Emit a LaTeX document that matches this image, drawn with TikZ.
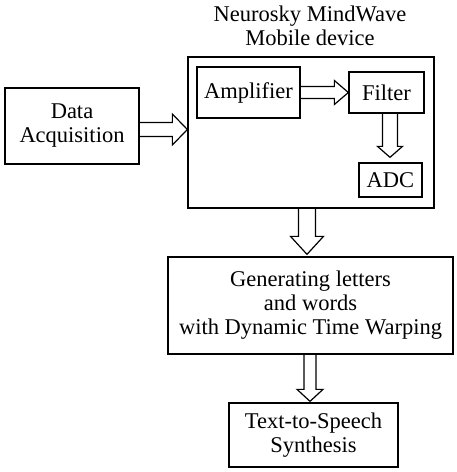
\documentclass[tikz,border=0pt]{standalone}
\usepackage{fontspec}
\setmainfont{Liberation Serif}
\newfontfamily\tnr{Liberation Serif}
\usetikzlibrary{calc}
\tikzset{
  box/.style={draw=black, line width=1.3pt, fill=white, inner sep=0pt, align=center},
  blk/.style={draw=black, line width=1.2pt, line join=miter},
}
% horizontal hollow block arrow: from, to, shaft half, head half, head length
\newcommand\harrow[5]{%
  \draw[blk] let \p1=(#1), \p2=(#2) in
    (\x1,\y1-#3) -- (\x2-#5,\y1-#3) -- (\x2-#5,\y1-#4) -- (\x2,\y1)
    -- (\x2-#5,\y1+#4) -- (\x2-#5,\y1+#3) -- (\x1,\y1+#3);}
% vertical (downward) hollow block arrow
\newcommand\varrow[5]{%
  \draw[blk] let \p1=(#1), \p2=(#2) in
    (\x1-#3,\y1) -- (\x1-#3,\y2+#5) -- (\x1-#4,\y2+#5) -- (\x1,\y2)
    -- (\x1+#4,\y2+#5) -- (\x1+#3,\y2+#5) -- (\x1+#3,\y1);}
\begin{document}
\begin{tikzpicture}[x=1pt,y=-1pt,font=\tnr\fontsize{22.5}{24}\selectfont]
\useasboundingbox (0,0) rectangle (456,472);
\fill[white] (0,0) rectangle (456,472);

\node[align=center] (title) at (310,26) {Neurosky MindWave\\Mobile device};
\node[box, minimum width=246pt, minimum height=151pt] (dev) at (311,132.5) {};
\node[box, minimum width=134pt, minimum height=76pt] (da) at (72,126) {Data\\Acquisition};
\node[box, minimum width=103pt, minimum height=51pt] (amp) at (248.5,92.5) {Amplifier};
\node[box, minimum width=75pt, minimum height=41pt] (fil) at (386.5,92.5) {Filter};
\node[box, minimum width=63pt, minimum height=34pt] (adc) at (390.5,180) {ADC};
\node[box, minimum width=285pt, minimum height=97pt] (gen) at (310.5,305.5)
  {Generating letters\\and words\\with Dynamic Time Warping};
\node[box, minimum width=169pt, minimum height=64pt] (tts) at (313.5,435)
  {Text-to-Speech\\Synthesis};

% connectors
\coordinate (a1s) at ($(da.east)+(0,3.5)$);
\coordinate (a1e) at (dev.west |- a1s);
\harrow{a1s}{a1e}{7pt}{15.5pt}{15pt}

\harrow{amp.east}{fil.west}{6pt}{12pt}{14pt}

\coordinate (a3s) at (390,0 |- fil.south);
\coordinate (a3e) at ($(a3s |- adc.north)+(0,-5)$);
\varrow{a3s}{a3e}{7.5pt}{12.5pt}{11pt}

\coordinate (a4s) at (307,0 |- dev.south);
\coordinate (a4e) at ($(a4s |- gen.north)+(0,-2)$);
\varrow{a4s}{a4e}{8.5pt}{16.5pt}{18pt}

\coordinate (a5s) at (310,0 |- gen.south);
\coordinate (a5e) at ($(a5s |- tts.north)+(0,-1)$);
\varrow{a5s}{a5e}{6pt}{13pt}{12pt}
\end{tikzpicture}
\end{document}
